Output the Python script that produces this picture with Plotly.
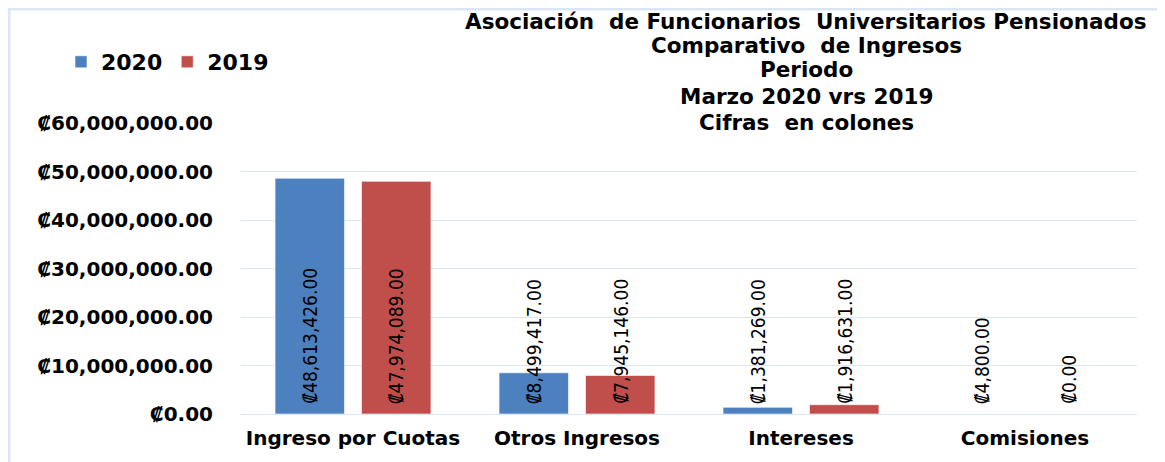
import plotly.graph_objects as go

categories = ["Ingreso por Cuotas", "Otros Ingresos", "Intereses", "Comisiones"]
values_2020 = [48613426.00, 8499417.00, 1381269.00, 4800.00]
values_2019 = [47974089.00, 7945146.00, 1916631.00, 0.00]
series_names = ["2020", "2019"]
colors = ["#4d80bf", "#c04e4a"]
title_lines = [
    "Asociación  de Funcionarios  Universitarios Pensionados",
    "Comparativo  de Ingresos",
    "Periodo",
    "Marzo 2020 vrs 2019",
    "Cifras  en colones",
]

OFF = 8  # page body margin
W, H = 1165 - OFF, 462 - OFF
L, T = 241 - OFF, 123 - OFF
R, B = 1165 - 1137, 462 - 414
pw, ph = W - L - R, H - T - B

def px_x(p):  # reference page pixel x -> paper
    return (p - OFF - L) / pw

def px_y(p):  # reference page pixel y -> paper
    return (H - B - (p - OFF)) / ph

fig = go.Figure()
for name, vals, col in zip(series_names, [values_2020, values_2019], colors):
    fig.add_trace(go.Bar(
        x=categories, y=vals, name=name,
        marker=dict(color=col, line=dict(color="rgba(255,255,255,0.6)", width=1)),
    ))

label_font = dict(family="DejaVu Sans Condensed, Liberation Sans Narrow, sans-serif",
                  size=19, color="black")
offset = 43.25
for vals, sh in [(values_2020, -offset), (values_2019, offset)]:
    for c, v in zip(categories, vals):
        fig.add_annotation(
            x=c, y=0, xref="x", yref="y", text=f"₡{v:,.2f}", textangle=-90,
            showarrow=False, xanchor="center", yanchor="bottom", xshift=sh, yshift=9,
            font=label_font, borderpad=0,
        )

title_y = [22, 45, 70, 96, 122]
for line, yy in zip(title_lines, title_y):
    fig.add_annotation(
        x=px_x(806), y=px_y(yy), xref="paper", yref="paper",
        xanchor="center", yanchor="middle", showarrow=False,
        text=line, borderpad=0,
        font=dict(family="DejaVu Sans, sans-serif", size=21.5, color="black", weight="bold"),
    )

border = dict(color="#dbe6f4", width=3)
fig.add_shape(type="line", xref="paper", yref="paper",
              x0=px_x(OFF + 1), x1=px_x(OFF + 1), y0=px_y(462), y1=px_y(OFF + 1), line=border)
fig.add_shape(type="line", xref="paper", yref="paper",
              x0=px_x(OFF), x1=px_x(1165), y0=px_y(OFF + 1), y1=px_y(OFF + 1), line=border)

fig.update_layout(
    width=W, height=H,
    margin=dict(l=L, r=R, t=T, b=B, autoexpand=False),
    paper_bgcolor="white", plot_bgcolor="white",
    barmode="group", bargap=0.228, bargroupgap=0.197,
    showlegend=True,
    legend=dict(orientation="h", x=px_x(61), xanchor="left", y=px_y(62), yanchor="middle",
                font=dict(family="DejaVu Sans, sans-serif", size=22, color="black", weight="bold"),
                itemwidth=30, tracegroupgap=0, bgcolor="rgba(0,0,0,0)"),
    font=dict(family="DejaVu Sans, sans-serif", color="black"),
)
fig.update_yaxes(range=[0, 60e6], dtick=10e6, tickprefix="₡", tickformat=",.2f",
                 showgrid=True, gridcolor="#dce6f2", gridwidth=1, zeroline=False,
                 showline=False, ticks="", ticklabelstandoff=27,
                 tickfont=dict(family="DejaVu Sans, sans-serif", size=20, color="black", weight="bold"))
fig.update_xaxes(showline=True, linecolor="#dce6f2", linewidth=1, ticks="",
                 ticklabelstandoff=6,
                 tickfont=dict(family="DejaVu Sans, sans-serif", size=20, color="black", weight="bold"))

fig.write_html("out.html")
